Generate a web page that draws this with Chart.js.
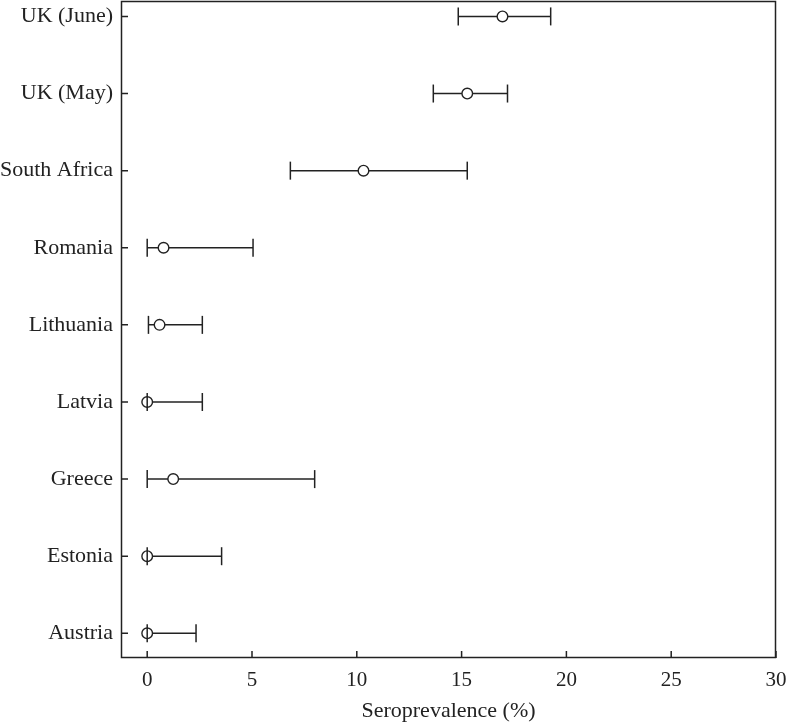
<!DOCTYPE html>
<html lang="en">
  <head>
    <meta charset="UTF-8" />
    <title>Seroprevalence</title>
    <style>
    body { margin: 0; background: #fff; }
    #wrap { width: 787px; height: 724px; }
    </style>
    <script src="https://cdn.jsdelivr.net/npm/chart.js@4/dist/chart.umd.min.js"></script>
  </head>
  <body>
    <div id="wrap"><canvas id="chart" width="787" height="724"></canvas></div>

    <script>
      // top to bottom, as shown
      const countries = ['UK (June)', 'UK (May)', 'South Africa', 'Romania', 'Lithuania', 'Latvia', 'Greece', 'Estonia', 'Austria'];
      const estimate = [16.95, 15.27, 10.32, 0.78, 0.59, 0, 1.24, 0, 0];
      const lower    = [14.84, 13.65, 6.83, 0, 0.06, 0, 0, 0, 0];
      const upper    = [19.25, 17.19, 15.27, 5.05, 2.63, 2.63, 7.99, 3.55, 2.33];
      const xTicks = [0, 5, 10, 15, 20, 25, 30];

      const ink = '#222';
      const n = countries.length;
      const rowY = i => n - i;

      // horizontal CI lines
      const lineSets = countries.map((c, i) => ({
        type: 'line',
        data: [{x: lower[i], y: rowY(i)}, {x: upper[i], y: rowY(i)}],
        borderColor: ink,
        borderWidth: 1.5,
        pointRadius: 0,
        order: 3
      }));

      const circles = {
        type: 'scatter',
        data: countries.map((c, i) => ({x: estimate[i], y: rowY(i)})),
        pointStyle: 'circle',
        pointRadius: 5.3,
        borderColor: ink,
        borderWidth: 1.4,
        backgroundColor: '#fff',
        order: 2
      };

      const caps = {
        type: 'scatter',
        data: countries.flatMap((c, i) => [{x: lower[i], y: rowY(i)}, {x: upper[i], y: rowY(i)}]),
        pointStyle: 'line',
        rotation: 90,
        pointRadius: 9,
        borderColor: ink,
        borderWidth: 1.5,
        order: 1
      };

      // frame plus inward tick marks
      const frame = {
        id: 'frame',
        afterDraw(chart) {
          const {ctx, chartArea: a, scales} = chart;
          ctx.save();
          ctx.strokeStyle = ink;
          ctx.lineWidth = 1.5;
          ctx.strokeRect(a.left + 0.5, a.top + 0.5, a.right - a.left - 1, a.bottom - a.top - 1);
          ctx.beginPath();
          scales.x.ticks.forEach(t => {
            const px = scales.x.getPixelForValue(t.value);
            ctx.moveTo(px, a.bottom);
            ctx.lineTo(px, a.bottom - 7);
          });
          scales.y.ticks.forEach(t => {
            const py = scales.y.getPixelForValue(t.value);
            ctx.moveTo(a.left, py);
            ctx.lineTo(a.left + 7, py);
          });
          ctx.stroke();
          ctx.restore();
        }
      };

      const noPad = s => { s.paddingLeft = 0; s.paddingRight = 0; s.paddingTop = 0; s.paddingBottom = 0; };

      const ctx = document.getElementById('chart').getContext('2d');
      new Chart(ctx, {
        data: { datasets: [...lineSets, circles, caps] },
        options: {
          responsive: false,
          animation: false,
          clip: false,
          layout: { autoPadding: false, padding: { top: 1, right: 11, left: 0, bottom: 0 } },
          plugins: { legend: { display: false }, tooltip: { enabled: false } },
          scales: {
            x: {
              type: 'linear',
              min: -1.25,
              max: 30,
              afterBuildTicks: s => { s.ticks = xTicks.map(v => ({value: v})); },
              afterFit: s => { s.height = 66; noPad(s); },
              grid: { drawOnChartArea: false, drawTicks: false },
              border: { display: false },
              ticks: { color: ink, padding: 10, font: { family: 'Liberation Serif', size: 21 } },
              title: {
                display: true,
                text: 'Seroprevalence (%)',
                color: ink,
                padding: { top: 3, bottom: 0 },
                font: { family: 'Liberation Serif', size: 22 }
              }
            },
            y: {
              type: 'linear',
              min: 0.68,
              max: 9.2,
              afterBuildTicks: s => { s.ticks = countries.map((c, i) => ({value: rowY(i)})); },
              afterFit: s => { s.width = 121; noPad(s); },
              grid: { drawOnChartArea: false, drawTicks: false },
              border: { display: false },
              ticks: {
                color: ink,
                padding: 8,
                font: { family: 'Liberation Serif', size: 22 },
                callback: v => countries[n - v]
              }
            }
          }
        },
        plugins: [frame]
      });
    </script>
  </body>
</html>
